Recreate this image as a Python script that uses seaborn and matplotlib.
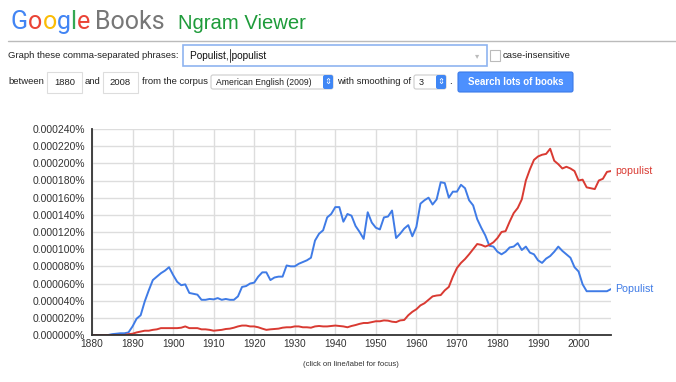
import pandas as pd
import matplotlib.pyplot as plt
import seaborn as sns
from matplotlib.patches import Rectangle, FancyBboxPatch

# ngram frequencies, in millionths of a percent (0.000001%)
years = list(range(1880, 2009))
populist_upper = [
    0, 0, 0, 0, 0, 1, 1.5, 2, 2, 3,
    10, 19, 23, 39, 52, 64, 68, 72, 75, 79,
    70, 62, 58, 59, 49, 48, 47, 41, 41, 42,
    41.5, 43, 41, 42, 41, 41, 45, 56, 57, 60,
    61, 68, 73, 73, 64, 67, 68, 68, 81, 80,
    80, 83, 85, 87, 90, 110, 118, 122, 137, 141,
    149, 149, 132, 141, 139, 127, 120, 112, 143, 131,
    125, 123, 137, 138, 145, 113, 118, 124, 128, 115,
    126, 153, 157, 160, 152, 158, 178, 177, 160, 167,
    167, 175, 171, 157, 151, 135, 125, 116, 104, 103,
    97, 94, 97, 102, 103, 107, 99, 103, 96, 94,
    87, 84, 89, 92, 97, 103, 98, 94, 90, 79,
    74, 59, 51, 51, 51, 51, 51, 51, 53.5,
]
populist_lower = [
    0, 0, 0, 0, 0, 0, 0, 0, 0, 1,
    1.5, 3, 4, 5, 5, 6, 6.6, 8, 8, 8,
    8, 8, 8.5, 10, 8, 8, 8, 6.6, 6.6, 6,
    5, 5.5, 6, 7, 7.4, 8.5, 10, 11, 11, 10,
    10, 9, 7.4, 6, 6.6, 7, 7.4, 8.5, 9, 9,
    10, 10, 9, 9, 8.5, 10, 10.5, 10, 10, 10.5,
    11, 10.5, 10, 9, 10.5, 11.6, 13, 14, 14, 15,
    16, 16, 17, 16.7, 15.5, 15, 17, 17.5, 23, 27,
    30, 34.5, 37, 41, 45, 46, 46.5, 52, 56, 68,
    78, 84, 88.5, 94, 100, 106, 105, 103, 105, 108,
    113, 120, 121, 132, 142, 148, 158, 180, 193, 204,
    208, 210, 211, 217, 203, 199, 194, 196, 194, 191,
    180, 181, 172, 171, 170, 180, 182, 190, 191,
]
phrases = ['Populist', 'populist']
y_ticks = list(range(0, 241, 20))
x_ticks = list(range(1880, 2001, 10))

BLUE = '#3f7be6'
RED = '#d93a32'

sns.set_style('white')
plt.rcParams['font.family'] = ['Liberation Sans', 'DejaVu Sans']

df = pd.DataFrame({
    'year': years * 2,
    'freq': populist_upper + populist_lower,
    'phrase': [phrases[0]] * len(years) + [phrases[1]] * len(years),
})

fig = plt.figure(figsize=(6.76, 3.82), dpi=100)
ax = fig.add_axes([92 / 676, 1 - 335 / 382, 519 / 676, 206 / 382])

sns.lineplot(data=df, x='year', y='freq', hue='phrase',
             palette={phrases[0]: BLUE, phrases[1]: RED},
             linewidth=1.4, legend=False, ax=ax)

ax.set_xlim(1880, 2008)
ax.set_ylim(0, 240)
ax.set_yticks(y_ticks)
ax.set_yticklabels([f"{v / 1e6:.6f}%" for v in y_ticks])
ax.set_xticks(x_ticks)
ax.set_xlabel('')
ax.set_ylabel('')
ax.grid(True, color='#dddddd', linewidth=1)
ax.set_axisbelow(True)
for s in ['top', 'right']:
    ax.spines[s].set_visible(False)
for s in ['left', 'bottom']:
    ax.spines[s].set_color('#333333')
    ax.spines[s].set_linewidth(1.3)
ax.tick_params(axis='y', labelsize=7.5, colors='#333333', length=0, pad=5)
ax.tick_params(axis='x', labelsize=7.3, colors='#333333', length=0, pad=3)

ax.text(2009, populist_upper[-1], phrases[0], color=BLUE, fontsize=7.7,
        va='center', ha='left', clip_on=False)
ax.text(2009, populist_lower[-1], phrases[1], color=RED, fontsize=7.7,
        va='center', ha='left', clip_on=False)

# page furniture around the chart, in pixel coordinates
ui = fig.add_axes([0, 0, 1, 1])
ui.set_xlim(0, 676)
ui.set_ylim(382, 0)
ui.axis('off')

r = fig.canvas.get_renderer()
logo = 'Google'
logo_cols = ['#4285f4', '#ea4335', '#fbbc05', '#4285f4', '#34a853', '#ea4335']
x0 = 10
for i, (ch, c) in enumerate(zip(logo, logo_cols)):
    if i > 0:
        probe = ui.text(0, 0, logo[:i], fontsize=18, family='Roboto')
        w = probe.get_window_extent(r).width
        probe.remove()
    else:
        w = 0
    ui.text(x0 + w + (1 if i > 0 else 0), 29, ch, color=c, fontsize=18,
            family='Roboto', va='baseline')
ui.text(95, 29, 'Books', color='#777777', fontsize=18, family='Roboto', va='baseline')
ui.text(178, 29, 'Ngram Viewer', color='#1e9b3a', fontsize=14.6, va='baseline')
ui.plot([8, 676], [40.5, 40.5], color='#bbbbbb', linewidth=1)

txt = dict(fontsize=6.8, color='#222222', va='center')
ui.text(8, 55, 'Graph these comma-separated phrases:', **txt)
ui.add_patch(Rectangle((183, 45), 304, 21, facecolor='white', edgecolor='#8fb4f0', linewidth=1.2))
ui.text(190, 56, 'Populist, populist', fontsize=7.3, color='#111111', va='center')
ui.plot([229.5, 229.5], [49, 62], color='#222222', linewidth=0.6)
ui.text(477, 57, '▾', fontsize=6, color='#bbbbbb', va='center', ha='center')
ui.add_patch(Rectangle((490, 50), 10, 11, facecolor='white', edgecolor='#bbbbbb', linewidth=0.8))
ui.text(503, 55.5, 'case-insensitive', **txt)

ui.text(8, 82, 'between', **txt)
ui.add_patch(Rectangle((47, 72), 35, 21, facecolor='white', edgecolor='#dddddd', linewidth=0.8))
ui.text(64.5, 82.5, '1880', fontsize=6.8, color='#222222', va='center', ha='center')
ui.text(85, 82, 'and', **txt)
ui.add_patch(Rectangle((103, 72), 35, 21, facecolor='white', edgecolor='#dddddd', linewidth=0.8))
ui.text(120.5, 82.5, '2008', fontsize=6.8, color='#222222', va='center', ha='center')
ui.text(142, 82, 'from the corpus', **txt)
ui.add_patch(FancyBboxPatch((211, 75), 122, 14, boxstyle='round,pad=0,rounding_size=2',
                            facecolor='white', edgecolor='#cccccc', linewidth=0.8))
ui.text(216, 82.5, 'American English (2009)', fontsize=6.2, color='#222222', va='center')
ui.add_patch(FancyBboxPatch((323, 75), 10, 14, boxstyle='round,pad=0,rounding_size=2',
                            facecolor='#3f86f5', edgecolor='none'))
ui.text(328, 82, '⇕', fontsize=6, color='white', va='center', ha='center', family='DejaVu Sans')
ui.text(337, 82, 'with smoothing of', **txt)
ui.add_patch(FancyBboxPatch((414, 75), 32, 14, boxstyle='round,pad=0,rounding_size=2',
                            facecolor='white', edgecolor='#cccccc', linewidth=0.8))
ui.text(419, 82.5, '3', fontsize=6.5, color='#222222', va='center')
ui.add_patch(FancyBboxPatch((436, 75), 10, 14, boxstyle='round,pad=0,rounding_size=2',
                            facecolor='#3f86f5', edgecolor='none'))
ui.text(441, 82, '⇕', fontsize=6, color='white', va='center', ha='center', family='DejaVu Sans')
ui.text(449, 82, '.', **txt)
ui.add_patch(FancyBboxPatch((458, 72), 115, 20, boxstyle='round,pad=0,rounding_size=2',
                            facecolor='#4d90fe', edgecolor='#3b7ae8', linewidth=0.8))
ui.text(515.5, 82, 'Search lots of books', fontsize=7, color='white',
        fontweight='bold', va='center', ha='center')

ui.text(351, 365, '(click on line/label for focus)', fontsize=5.6, color='#333333',
        va='center', ha='center')

fig.savefig('out.png', dpi=100)
